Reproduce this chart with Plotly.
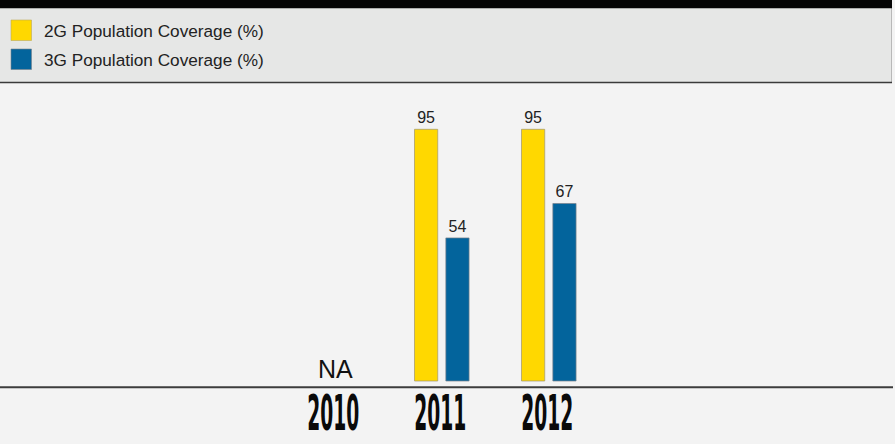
import plotly.graph_objects as go

# Coverage data
years = ["2010", "2011", "2012"]
cov_2g = [None, 95, 95]
cov_3g = [None, 54, 67]
series_names = ["2G Population Coverage (%)", "3G Population Coverage (%)"]
na_label = "NA"

YELLOW = "#FFD800"
BLUE = "#03649C"
W, H = 895, 444

fig = go.Figure()

bar_w = 0.217
fig.add_trace(go.Bar(
    x=years, y=cov_2g, name=series_names[0], width=bar_w, offset=-0.257,
    marker=dict(color=YELLOW, line=dict(color="rgba(160,150,110,0.7)", width=1)),
    text=cov_2g, texttemplate="%{y}", textposition="outside",
    textfont=dict(family="Liberation Sans, Arial, sans-serif", size=16, color="#222"),
    cliponaxis=False, showlegend=False,
))
fig.add_trace(go.Bar(
    x=years, y=cov_3g, name=series_names[1], width=bar_w, offset=0.036,
    marker=dict(color=BLUE, line=dict(color="rgba(120,130,140,0.7)", width=1)),
    text=cov_3g, texttemplate="%{y}", textposition="outside",
    textfont=dict(family="Liberation Sans, Arial, sans-serif", size=16, color="#222"),
    cliponaxis=False, showlegend=False,
))

# pixel geometry of the axes
px_per_cat = 107.0
x0_px = 335.0
base_px = 381.0
px_per_unit = (base_px - 129.3) / 95.0
xr = [-x0_px / px_per_cat, (W - x0_px) / px_per_cat]
yr = [-(H - base_px) / px_per_unit, base_px / px_per_unit]

def py(p):
    """pixel row -> paper y"""
    return (H - p) / H

def px(p):
    return p / W

shapes = [
    # legend panel
    dict(type="rect", xref="paper", yref="paper", x0=0, x1=px(891.5), y0=py(83), y1=py(8),
         fillcolor="#E6E7E6", line=dict(width=0), layer="below"),
    dict(type="line", xref="paper", yref="paper", x0=px(891.5), x1=px(891.5), y0=py(83), y1=py(8),
         line=dict(color="#B8B8B8", width=1)),
    dict(type="line", xref="paper", yref="paper", x0=0, x1=px(892), y0=py(82.5), y1=py(82.5),
         line=dict(color="#3A3A3A", width=1.6)),
    # top black band
    dict(type="rect", xref="paper", yref="paper", x0=0, x1=px(892), y0=py(8.3), y1=1,
         fillcolor="#050505", line=dict(width=0)),
    # baseline rule
    dict(type="line", xref="paper", yref="paper", x0=0, x1=px(893), y0=py(387.3), y1=py(387.3),
         line=dict(color="#3C3C3C", width=2)),
    # legend swatches
    dict(type="rect", xref="paper", yref="paper", x0=px(11), x1=px(31.5), y0=py(40.5), y1=py(20),
         fillcolor=YELLOW, line=dict(color="rgba(190,170,90,0.6)", width=1)),
    dict(type="rect", xref="paper", yref="paper", x0=px(11), x1=px(31.5), y0=py(69.5), y1=py(49),
         fillcolor=BLUE, line=dict(color="rgba(120,130,140,0.6)", width=1)),
]

annotations = []
for name, cy in zip(series_names, [30.5, 59.5]):
    annotations.append(dict(
        text=name, xref="paper", yref="paper", x=px(42), y=py(cy),
        xanchor="left", yanchor="middle", showarrow=False,
        font=dict(family="Liberation Sans, Arial, sans-serif", size=17.2, color="#222"),
    ))

# "NA" sits on the baseline of the first category (index 0)
annotations.append(dict(
    text=na_label, x=0, y=0, xref="x", yref="y", yanchor="bottom", xanchor="center",
    showarrow=False, yshift=-4,
    font=dict(family="Liberation Sans, Arial, sans-serif", size=25, color="#111"),
))

# year labels along the bottom edge
for i, yr_lbl in enumerate(years):
    annotations.append(dict(
        text=yr_lbl, x=i, xref="x", yref="paper", y=0, yanchor="bottom",
        xanchor="center", showarrow=False, xshift=-2,
        font=dict(family="Liberation Sans Narrow, DejaVu Sans Condensed, sans-serif",
                  size=49, color="#0A0A0A", weight="bold"),
    ))

fig.update_layout(
    width=W, height=H, margin=dict(l=0, r=0, t=0, b=0),
    paper_bgcolor="#F3F3F3", plot_bgcolor="#F3F3F3",
    xaxis=dict(type="category", range=xr, showticklabels=False, showgrid=False,
               zeroline=False, showline=False, ticks=""),
    yaxis=dict(range=yr, showticklabels=False, showgrid=False, zeroline=False,
               showline=False, ticks=""),
    shapes=shapes, annotations=annotations, barmode="overlay",
)

# condense the year labels horizontally around their own centre
squeeze_js = """
var gd = document.getElementById('{plot_id}');
function squeezeYears(){
  gd.querySelectorAll('text.annotation-text').forEach(function(t){
    if (!/^20\\d\\d$/.test(t.textContent.trim())) return;
    t.removeAttribute('transform');
    var bb = t.getBBox();
    var cx = bb.x + bb.width / 2;
    var s = 52 / bb.width;
    t.setAttribute('transform',
      'translate(' + cx + ',0) scale(' + s + ',1) translate(' + (-cx) + ',0)');
  });
}
squeezeYears();
gd.on('plotly_afterplot', squeezeYears);
"""

fig.write_html("out.html", post_script=squeeze_js)
